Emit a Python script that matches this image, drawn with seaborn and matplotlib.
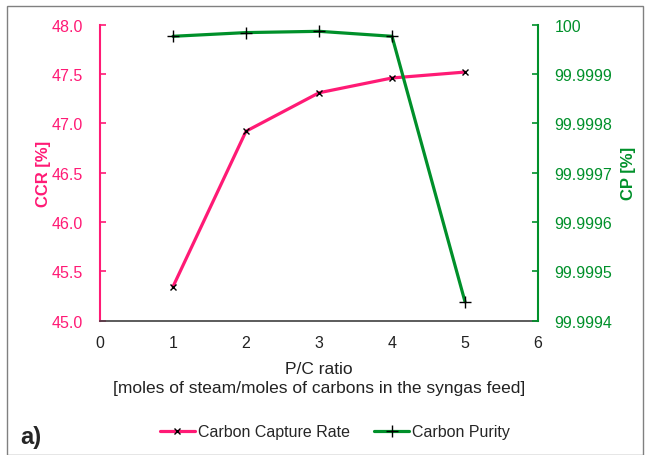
import matplotlib
matplotlib.use("Agg")
import matplotlib.pyplot as plt
import seaborn as sns
import pandas as pd
from matplotlib.patches import Rectangle
from matplotlib.lines import Line2D

pc_ratio = [1, 2, 3, 4, 5]
ccr = [45.345, 46.92, 47.31, 47.46, 47.52]
cp = [99.9999765, 99.999984, 99.9999866, 99.9999765, 99.9994385]
x_ticks = [0, 1, 2, 3, 4, 5, 6]
ccr_ticks = [45.0, 45.5, 46.0, 46.5, 47.0, 47.5, 48.0]
cp_ticks = [99.9994, 99.9995, 99.9996, 99.9997, 99.9998, 99.9999, 100.0]
cp_tick_labels = ["99.9994", "99.9995", "99.9996", "99.9997", "99.9998", "99.9999", "100"]

sns.set_theme(style="white")
plt.rcParams['font.family'] = ['Liberation Sans', 'DejaVu Sans']

PINK = "#ff1a75"
GREEN = "#00902a"
df = pd.DataFrame({"x": pc_ratio, "ccr": ccr, "cp": cp})

fig = plt.figure(figsize=(6.5, 4.56), dpi=100)
ax = fig.add_axes([100/650, 1-321.7/456, 438/650, 296/456])
ax2 = ax.twinx()

sns.lineplot(data=df, x="x", y="ccr", ax=ax, color=PINK, linewidth=2.3,
             marker="x", markersize=5, markeredgecolor="black", markeredgewidth=1.0)
sns.lineplot(data=df, x="x", y="cp", ax=ax2, color=GREEN, linewidth=2.3,
             marker="+", markersize=8, markeredgecolor="black", markeredgewidth=1.0)

ax.set_xlim(0, 6)
ax.set_ylim(45.0, 48.0)
ax2.set_ylim(99.9994, 100.0)
ax.set_xticks(x_ticks)
ax.set_yticks(ccr_ticks)
ax.set_yticklabels([f"{v:.1f}" for v in ccr_ticks])
ax2.set_yticks(cp_ticks)
ax2.set_yticklabels(cp_tick_labels)

for a in (ax, ax2):
    a.spines["top"].set_visible(False)
ax.spines["right"].set_visible(False)
ax2.spines["left"].set_visible(False)
ax.spines["left"].set_color(PINK)
ax.spines["left"].set_linewidth(1.5)
ax2.spines["right"].set_color(GREEN)
ax2.spines["right"].set_linewidth(1.5)
ax.spines["bottom"].set_color("#404040")
ax.spines["bottom"].set_linewidth(1.2)
ax2.spines["bottom"].set_visible(False)

ax.tick_params(axis="y", direction="in", colors=PINK, length=4, width=1.2, labelsize=11.5, pad=12)
ax.tick_params(axis="x", direction="in", colors="#404040", length=4, width=1.0, labelsize=11.5, pad=10, labelcolor="#222222")
ax2.tick_params(axis="y", direction="in", colors=GREEN, length=4, width=1.2, labelsize=11.5, pad=12)

ax.set_xlabel("P/C ratio\n[moles of steam/moles of carbons in the syngas feed]", fontsize=12.5,
              color="#222222", labelpad=8, linespacing=1.4)
ax.set_ylabel("CCR [%]", fontsize=12, fontweight="bold", color=PINK, labelpad=1)
ax2.set_ylabel("CP [%]", fontsize=12, fontweight="bold", color=GREEN, labelpad=6)

handles = [
    Line2D([], [], color=PINK, linewidth=2.3, marker="x", markersize=5, markeredgecolor="black", markeredgewidth=1.0),
    Line2D([], [], color=GREEN, linewidth=2.3, marker="+", markersize=8, markeredgecolor="black", markeredgewidth=1.0),
]
fig.legend(handles, ["Carbon Capture Rate", "Carbon Purity"], loc="center", bbox_to_anchor=(335/650, 1-433/456),
           ncol=2, frameon=False, fontsize=11.5, handlelength=2.2, handletextpad=0.2, columnspacing=1.5)
fig.text(20/650, 1-438/456, "a)", fontsize=17, fontweight="bold", va="center", ha="left")

fig.patches.append(Rectangle((7/650, 0), 636/650, 1-7/456, transform=fig.transFigure,
                             fill=False, edgecolor="#808080", linewidth=1.0))

fig.savefig("out.png", dpi=100)
